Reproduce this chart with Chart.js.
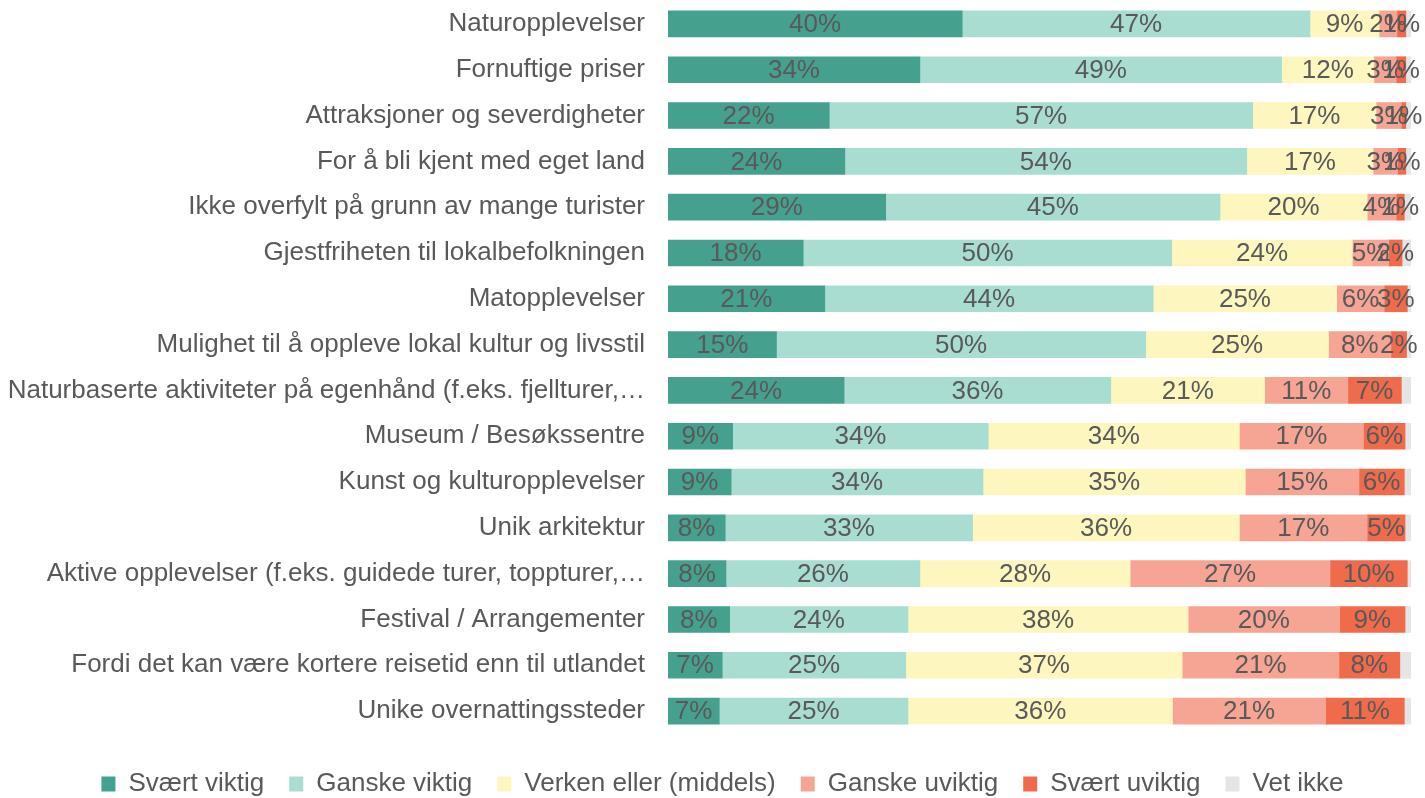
<!DOCTYPE html>
<html>
<head>
<meta charset="utf-8">
<script src="https://cdn.jsdelivr.net/npm/chart.js@4/dist/chart.umd.min.js"></script>
<style>
  html, body { margin: 0; padding: 0; background: #fff; }
  #wrap { position: relative; width: 1425px; height: 798px; }
</style>
</head>
<body>
<div id="wrap"><canvas id="chart"></canvas></div>
<script>
const categories = [
    'Naturopplevelser',
    'Fornuftige priser',
    'Attraksjoner og severdigheter',
    'For å bli kjent med eget land',
    'Ikke overfylt på grunn av mange turister',
    'Gjestfriheten til lokalbefolkningen',
    'Matopplevelser',
    'Mulighet til å oppleve lokal kultur og livsstil',
    'Naturbaserte aktiviteter på egenhånd (f.eks. fjellturer,…',
    'Museum / Besøkssentre',
    'Kunst og kulturopplevelser',
    'Unik arkitektur',
    'Aktive opplevelser (f.eks. guidede turer, toppturer,…',
    'Festival / Arrangementer',
    'Fordi det kan være kortere reisetid enn til utlandet',
    'Unike overnattingssteder'
];

const svaertViktig  = [39.6, 33.9, 21.7, 23.8, 29.3, 18.2, 21.1, 14.6, 23.7, 8.7, 8.5, 7.7, 7.8, 8.3, 7.3, 6.9];
const ganskeViktig  = [46.8, 48.7, 57.0, 54.1, 45.0, 49.6, 44.2, 49.7, 35.9, 34.4, 33.9, 33.3, 26.1, 24.0, 24.7, 25.4];
const verken        = [9.3, 12.4, 16.6, 17.0, 19.8, 24.3, 24.7, 24.6, 20.7, 33.8, 35.3, 35.9, 28.3, 37.7, 37.2, 35.6];
const ganskeUviktig = [2.4, 3.0, 3.4, 3.3, 3.9, 4.9, 6.4, 8.4, 11.2, 16.7, 15.3, 17.2, 26.9, 20.4, 21.1, 20.6];
const svaertUviktig = [1.2, 1.3, 0.6, 1.1, 1.1, 1.8, 3.1, 2.1, 7.2, 5.6, 6.1, 5.1, 10.4, 8.8, 8.2, 10.6];
const vetIkke       = [0.7, 0.7, 0.7, 0.7, 0.9, 1.2, 0.5, 0.6, 1.3, 0.8, 0.9, 0.8, 0.5, 0.8, 1.5, 0.9];

const seriesNames = ['Svært viktig', 'Ganske viktig', 'Verken eller (middels)', 'Ganske uviktig', 'Svært uviktig', 'Vet ikke'];
const seriesValues = [svaertViktig, ganskeViktig, verken, ganskeUviktig, svaertUviktig, vetIkke];
const seriesColors = ['#45A18E', '#A9DDD2', '#FDF7BF', '#F6A594', '#F06B4B', '#E5E5E5'];
const labelledSeries = 5; // "Vet ikke" har ingen etiketter

const fontFamily = '"Liberation Sans", Arial, sans-serif';
const textColor = '#595959';

// Prosentetiketter midt i hvert segment
const barLabels = {
    id: 'barLabels',
    afterDatasetsDraw: (chart) => {
        const ctx = chart.ctx;
        ctx.save();
        ctx.font = '26px ' + fontFamily;
        ctx.fillStyle = textColor;
        ctx.textAlign = 'center';
        ctx.textBaseline = 'middle';
        chart.data.datasets.forEach((ds, i) => {
            if (i >= labelledSeries) return;
            chart.getDatasetMeta(i).data.forEach((bar, j) => {
                const c = bar.getCenterPoint();
                ctx.fillText(Math.round(ds.data[j]) + '%', c.x, c.y + 1);
            });
        });
        ctx.restore();
    }
};

// Flytter legenden litt mot høyre, som i originalen
const legendShift = {
    id: 'legendShift',
    afterLayout: (chart) => {
        chart.legend.left += 17;
        chart.legend.right += 17;
    }
};

new Chart(document.getElementById('chart'), {
    type: 'bar',
    data: {
        labels: categories,
        datasets: seriesNames.map((name, i) => ({
            label: name,
            data: seriesValues[i],
            backgroundColor: seriesColors[i],
            borderWidth: 0,
            barThickness: 26
        }))
    },
    options: {
        indexAxis: 'y',
        responsive: true,
        maintainAspectRatio: false,
        animation: false,
        layout: { padding: { top: 1, right: 14, left: 0, bottom: -9 } },
        scales: {
            x: {
                stacked: true,
                min: 0,
                max: 100,
                display: false
            },
            y: {
                stacked: true,
                grid: { display: false, drawTicks: false },
                border: { display: false },
                ticks: {
                    padding: 23,
                    color: textColor,
                    font: { size: 26, family: fontFamily }
                },
                afterFit: (scale) => {
                    scale.width = 668;
                    scale.paddingTop = 0;
                    scale.paddingBottom = 0;
                }
            }
        },
        plugins: {
            legend: {
                position: 'bottom',
                title: { display: true, text: ' ', padding: 0, font: { size: 10 } },
                labels: {
                    boxWidth: 14,
                    boxHeight: 15,
                    padding: 25,
                    color: textColor,
                    font: { size: 26, family: fontFamily }
                }
            },
            tooltip: { enabled: false }
        }
    },
    plugins: [barLabels, legendShift]
});
</script>
</body>
</html>
